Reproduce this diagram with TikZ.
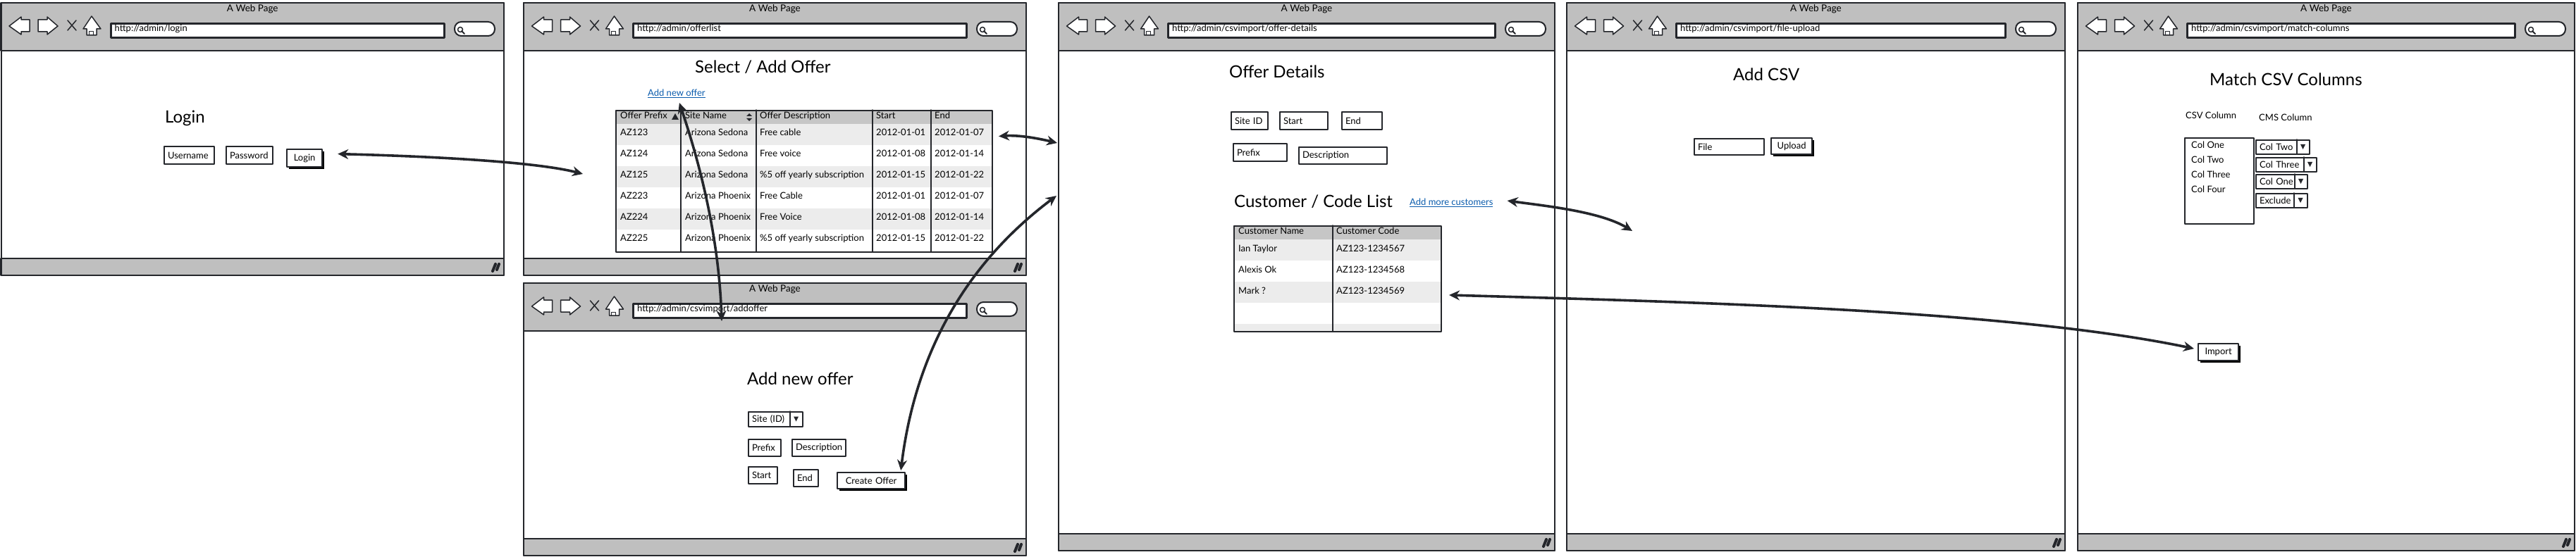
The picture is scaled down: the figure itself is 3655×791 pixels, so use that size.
\documentclass[tikz,border=0pt]{standalone}
\usepackage{fontspec}
\setmainfont{Lato}
\usetikzlibrary{shadows,arrows.meta}

\definecolor{barGrey}{HTML}{BFBFBF}
\definecolor{rowGrey}{HTML}{ECECEC}
\definecolor{headGrey}{HTML}{C6C6C6}
\definecolor{inkDark}{HTML}{24262B}
\definecolor{linkBlue}{HTML}{0B5CAD}

\tikzset{
	lbl/.style = {inner sep=0pt, text=black, font=\fontsize{13}{15}\selectfont},
	pagetitle/.style = {inner sep=0pt, anchor=west, text=black, font=\fontsize{24}{28}\selectfont},
	weblink/.style = {lbl, anchor=west, text=linkBlue},
	cell/.style = {lbl, anchor=base west},
	frame/.style = {draw=inkDark, line width=2pt},
	fieldbox/.style = {frame, fill=white, lbl, inner xsep=5pt, inner ysep=0pt, align=left},
	buttonbox/.style = {fieldbox, line width=2.2pt, align=center,
		general shadow={fill=black, shadow xshift=2.5pt, shadow yshift=-2.5pt}},
	link/.style = {{Stealth[length=15pt,width=14pt]}-{Stealth[length=15pt,width=14pt]}, draw=inkDark, line width=3.6pt},
}

% one browser window: name, left, right, top, top of the status bar, address
\newcommand{\browser}[6]{%
	\draw[frame, fill=white] (#2,#4) rectangle (#3,#5+24);
	\draw[frame, line width=2.5pt, fill=barGrey] (#2,#4) rectangle (#3,#4+68);
	\draw[frame, line width=2.5pt, fill=barGrey] (#2,#5) rectangle (#3,#5+24);
	\node[lbl, font=\fontsize{13.5}{15}\selectfont] (#1title) at ({(#2+#3)/2},#4+9) {A Web Page};
	\begin{scope}[shift={(#2-1.5,#4-4)}]
		\draw[frame, line width=1.5pt, fill=white, line join=round]
		(13,37)--(30,24)--(30,28)--(42,28)--(42,45)--(30,45)--(30,49)--cycle;
		\draw[frame, line width=1.5pt, fill=white, line join=round]
		(82,37)--(67,24)--(67,28)--(54,28)--(54,45)--(67,45)--(67,49)--cycle;
		\draw[frame, line width=1.5pt] (96,29)--(108,43) (108,29)--(96,43);
		\draw[frame, line width=1.5pt, fill=white, line join=round]
		(130,23)--(143,41)--(137,41)--(137,50)--(123,50)--(123,41)--(118,41)--cycle;
		\draw[frame, line width=1pt] (126,50)--(126,45)--(132,45)--(132,50);
	\end{scope}
	\node[frame, line width=3pt, fill=white, anchor=north west, inner sep=0pt,
	minimum height=20pt, minimum width={(#3-#2-240)*1pt}] (#1url) at (#2+154,#4+28) {};
	\node[lbl, anchor=west] at (#2+161,#4+37) {#6};
	\draw[frame, fill=white, rounded corners=9.5pt] (#3-70,#4+27) rectangle (#3-13,#4+47);
	\draw[frame, line width=1.5pt] (#3-62,#4+38) circle (3.5);
	\draw[frame] (#3-60,#4+40)--(#3-56,#4+44);
	\draw[inkDark, line width=4pt] (#3-16,#5+18)--(#3-12,#5+8) (#3-10,#5+16)--(#3-7,#5+8);
}

% text box: style, name, x1, y1, x2, y2, text
\newcommand{\field}[7][fieldbox]{%
	\pgfmathsetmacro\boxw{#5-#3-10}
	\pgfmathsetmacro\boxh{#6-#4}
	\node[#1, text width=\boxw pt, minimum height=\boxh pt, anchor=north west] (#2) at (#3,#4) {#7};
}

% select box: name, x1, y1, x2, y2, x of the divider, text
\newcommand{\dropfield}[7]{%
	\field{#1}{#2}{#3}{#4}{#5}{#7}
	\draw[frame, line width=1.5pt] (#6,#3)--(#6,#5);
	\pgfmathsetmacro\tipx{(#6+#4)/2}
	\pgfmathsetmacro\tipy{(#3+#5)/2}
	\fill[inkDark] (\tipx-3.5,\tipy-3)--(\tipx+3.5,\tipy-3)--(\tipx,\tipy+4)--cycle;
}

\begin{document}
\begin{tikzpicture}[x=1pt, y=-1pt, line join=round, line cap=round]
	
	\useasboundingbox (0,0) rectangle (3655,791);
	
	\browser{login}{1.5}{715}{4}{367}{http://admin/login}
	\browser{list}{743}{1456}{4}{367}{http://admin/offerlist}
	\browser{add}{743}{1456}{402}{765}{http://admin/csvimport/addoffer}
	\browser{detail}{1502}{2206}{4}{758}{http://admin/csvimport/offer-details}
	\browser{upload}{2223}{2930}{4}{758}{http://admin/csvimport/file-upload}
	\browser{match}{2948}{3653}{4}{758}{http://admin/csvimport/match-columns}
	
	% login
	\node[pagetitle] (logintitle) at (234,168) {Login};
	\field{username}{232}{207}{303}{232}{Username}
	\field{password}{320}{207}{386}{232}{Password}
	\field[buttonbox]{loginbtn}{406}{211}{456}{236}{Login}
	
	% offer list
	\node[pagetitle] (listhead) at (986,95) {Select / Add Offer};
	\node[weblink] (addoffer) at (919,133) {\underline{Add new offer}};
	\fill[headGrey] (873,156) rectangle (1407,176);
	\foreach \i/\pre/\site/\desc/\first/\last in {
		0/AZ123/Arizona Sedona/Free cable/2012-01-01/2012-01-07,
		1/AZ124/Arizona Sedona/Free voice/2012-01-08/2012-01-14,
		2/AZ125/Arizona Sedona/\%5 off yearly subscription/2012-01-15/2012-01-22,
		3/AZ223/Arizona Phoenix/Free Cable/2012-01-01/2012-01-07,
		4/AZ224/Arizona Phoenix/Free Voice/2012-01-08/2012-01-14,
		5/AZ225/Arizona Phoenix/\%5 off yearly subscription/2012-01-15/2012-01-22}
	{
		\pgfmathsetmacro\rowy{176+30*\i}
		\ifodd\i\else\fill[rowGrey] (873,\rowy) rectangle (1407,\rowy+30);\fi
		\node[cell] (pre\i) at (880,\rowy+17) {\pre};
		\node[cell] (site\i) at (972,\rowy+17) {\site};
		\node[cell] (desc\i) at (1078,\rowy+17) {\desc};
		\node[cell] (first\i) at (1243,\rowy+17) {\first};
		\node[cell] (last\i) at (1326,\rowy+17) {\last};
	}
	\node[cell] (listpre) at (880,169) {Offer Prefix};
	\node[cell] (listsite) at (972,169) {Site Name};
	\node[cell] (listdesc) at (1078,169) {Offer Description};
	\node[cell] (liststart) at (1243,169) {Start};
	\node[cell] (listend) at (1326,169) {End};
	\fill[inkDark] (958,161)--(963,170)--(953,170)--cycle;
	\fill[inkDark] (1063,161)--(1067,165)--(1059,165)--cycle (1063,172)--(1067,168)--(1059,168)--cycle;
	\foreach \col in {966,1073,1238,1321}
	\draw[frame, line width=1.5pt] (\col,156)--(\col,357);
	\node[frame, anchor=north west, inner sep=0pt, minimum width=534pt, minimum height=201pt] (offertable) at (873,156) {};
	
	% add offer
	\node[pagetitle] (addhead) at (1060,538) {Add new offer};
	\dropfield{sitedrop}{1061}{584}{1138}{605}{1121}{Site (ID)}
	\field{addprefix}{1061}{623}{1107}{647}{Prefix}
	\field{adddesc}{1123}{623}{1199}{647}{Description}
	\field{addstart}{1061}{662}{1102}{686}{Start}
	\field{addend}{1125}{666}{1160}{690}{End}
	\field[buttonbox]{createoffer}{1187}{670}{1283}{693}{Create Offer}
	
	% offer details
	\node[pagetitle] (detailhead) at (1744,102) {Offer Details};
	\field{detailsite}{1746}{158}{1798}{183}{Site ID}
	\field{detailstart}{1815}{158}{1883}{183}{Start}
	\field{detailend}{1903}{158}{1960}{183}{End}
	\field{detailprefix}{1749}{203}{1825}{228}{Prefix}
	\field{detaildesc}{1842}{208}{1967}{232}{Description}
	\node[pagetitle] (custhead) at (1751,286) {Customer / Code List};
	\node[weblink] (addmore) at (2000,288) {\underline{Add more customers}};
	\fill[headGrey] (1750,320) rectangle (2044,340);
	\foreach \y in {340,400,460} \fill[rowGrey] (1750,\y) rectangle (2044,{min(\y+30,470)});
	\foreach \i/\cname/\ccode in {0/Ian Taylor/AZ123-1234567, 1/Alexis Ok/AZ123-1234568, 2/Mark ?/AZ123-1234569}
	{
		\pgfmathsetmacro\rowy{357+30*\i}
		\node[cell] (cname\i) at (1757,\rowy) {\cname};
		\node[cell] (ccode\i) at (1896,\rowy) {\ccode};
	}
	\node[cell] (custname) at (1757,333) {Customer Name};
	\node[cell] (custcode) at (1896,333) {Customer Code};
	\draw[frame, line width=1.5pt] (1891,320)--(1891,470);
	\node[frame, anchor=north west, inner sep=0pt, minimum width=294pt, minimum height=150pt] (custtable) at (1750,320) {};
	
	% file upload
	\node[pagetitle] (uploadhead) at (2459,106) {Add CSV};
	\field{filebox}{2403}{196}{2502}{219}{File}
	\field[buttonbox]{uploadbtn}{2512}{195}{2570}{218}{Upload}
	
	% match columns
	\node[pagetitle] (matchhead) at (3135,113) {Match CSV Columns};
	\node[lbl, anchor=west] (csvcol) at (3101,164) {CSV Column};
	\node[lbl, anchor=west] (cmscol) at (3205,167) {CMS Column};
	\node[frame, fill=white, anchor=north west, inner sep=0pt, minimum width=98pt, minimum height=122pt] (collist) at (3099,195) {};
	\node[lbl, anchor=west] (colone) at (3109,206) {Col One};
	\node[lbl, anchor=west] (coltwo) at (3109,227) {Col Two};
	\node[lbl, anchor=west] (colthree) at (3109,248) {Col Three};
	\node[lbl, anchor=west] (colfour) at (3109,269) {Col Four};
	\dropfield{droptwo}{3200}{198}{3276}{218}{3259}{Col Two}
	\dropfield{dropthree}{3200}{223}{3286}{243}{3269}{Col Three}
	\dropfield{dropone}{3200}{247}{3273}{267}{3256}{Col One}
	\dropfield{dropnone}{3200}{274}{3273}{294}{3255}{Exclude}
	\field[buttonbox]{importbtn}{3118}{487}{3175}{511}{Import}
	
	% free ends of the arrows
	\coordinate (listblank) at (827,247);
	\coordinate (detailedgeA) at (1500,203);
	\coordinate (detailedgeB) at (1499,278);
	\coordinate (uploadblank) at (2316,328);
	\coordinate (addbar) at (1024,456);
	
	\draw[link] ([xshift=21pt,yshift=6pt]loginbtn.east)..controls+(120,3)and+(-70,-18)..(listblank);
	\draw[link] ([shift={(8,-64)}]offertable.east)..controls+(30,-2)and+(-25,-6)..(detailedgeA);
	\draw[link] ([shift={(4,7)}]addoffer.south)..controls+(31,92)and+(-4,-116)..(addbar);
	\draw[link] ([xshift=-7pt,yshift=2pt]createoffer.north east)..controls+(17,-138)and+(-149,112)..(detailedgeB);
	\draw[link] ([shift={(20,-3)}]addmore.east)..controls+(50,7)and+(-46,-28)..(uploadblank);
	\draw[link] ([shift={(10,23)}]custtable.east)..controls+(346,10)and+(-263,-55)..([shift={(-5,-5)}]importbtn.west);
	
\end{tikzpicture}
\end{document}
